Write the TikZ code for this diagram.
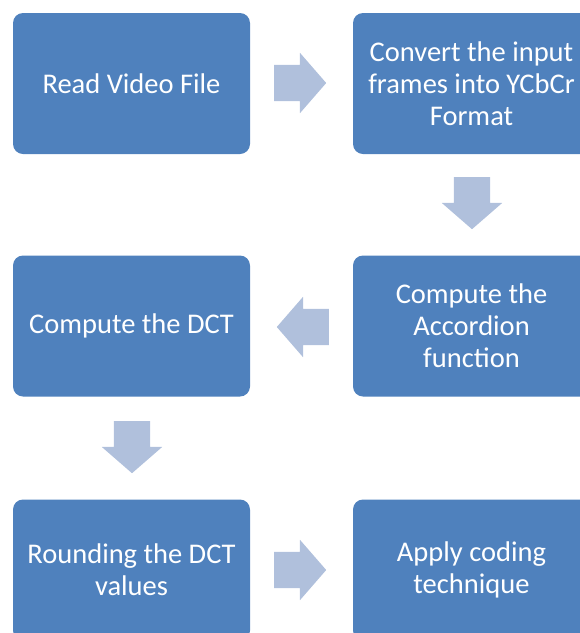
\documentclass[tikz,border=0pt]{standalone}
\usepackage{fontspec}
\setmainfont{Carlito}
\usetikzlibrary{shapes.arrows}

\definecolor{boxblue}{RGB}{79,129,189}
\definecolor{arrowblue}{RGB}{176,192,220}

\begin{document}
\begin{tikzpicture}
	% Styles
	[
	x=1pt, y=-1pt,
	stage/.style={rectangle, rounded corners=10pt, minimum width=237pt, minimum height=141pt, fill=boxblue, text=white, align=center, inner sep=4pt, font=\fontsize{28.5}{32}\selectfont},
	flow/.style={single arrow, fill=arrowblue, anchor=tail, inner xsep=0pt, inner ysep=18pt, minimum height=52pt, single arrow head extend=12pt, single arrow tip angle=98},
	flowdown/.style={flow, shape border rotate=270, inner xsep=18pt, inner ysep=0pt}
	]

	\useasboundingbox (0,0) rectangle (580,633);
	\clip (0,0) rectangle (580,633);

	% Nodes
	\node at (131.5,83.5)	(read)		[stage] {Read Video File};
	\node at (471.5,83.5)	(convert)	[stage] {Convert the input\\frames into YCbCr\\Format};
	\node at (471.5,326)	(accordion)	[stage] {Compute the\\Accordion\\function};
	\node at (131.5,326)	(dct)		[stage] {Compute the DCT};
	\node at (131.5,570)	(rounding)	[stage] {Rounding the DCT\\values};
	\node at (471.5,570)	(coding)	[stage] {Apply coding\\technique};

	% Arrows
	\node at (274,83)		(arr1)	[flow] {};
	\node at (472,177)		(arr2)	[flowdown] {};
	\node at (329,327)		(arr3)	[flow, shape border rotate=180] {};
	\node at (132,421)		(arr4)	[flowdown] {};
	\node at (274,570)		(arr5)	[flow] {};

\end{tikzpicture}
\end{document}
